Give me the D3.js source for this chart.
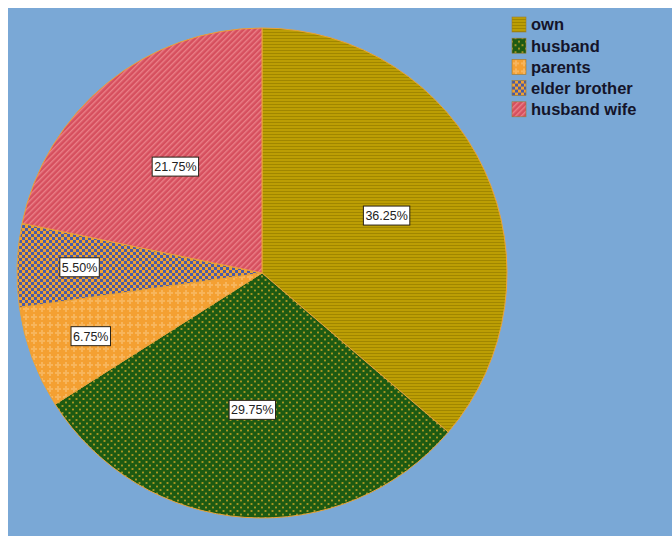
<!DOCTYPE html>
<html>
<head>
<meta charset="utf-8">
<script src="https://cdn.jsdelivr.net/npm/d3@7/dist/d3.min.js"></script>
<style>
  html, body { margin: 0; padding: 0; background: #ffffff; }
  svg { display: block; }
</style>
</head>
<body>
<script>
// Who the respondent lives with / depends on: share of answers in percent
const categories = ["own", "husband", "parents", "elder brother", "husband wife"];
const percents = [36.25, 29.75, 6.75, 5.50, 21.75];
const percentLabels = ["36.25%", "29.75%", "6.75%", "5.50%", "21.75%"];
const patternIds = ["pat-own", "pat-husband", "pat-parents", "pat-brother", "pat-hw"];

const W = 672, H = 536;
const svg = d3.select("body").append("svg").attr("width", W).attr("height", H);

// chart panel
svg.append("rect").attr("x", 8).attr("y", 8).attr("width", W - 8).attr("height", H - 8)
  .attr("fill", "#7aa8d6");

// ---- fill patterns ----
const defs = svg.append("defs");

// own: olive with fine horizontal lines
let p = defs.append("pattern").attr("id", "pat-own").attr("patternUnits", "userSpaceOnUse")
  .attr("width", 6).attr("height", 3);
p.append("rect").attr("width", 6).attr("height", 3).attr("fill", "#bc9e04");
p.append("rect").attr("y", 2).attr("width", 6).attr("height", 1).attr("fill", "#a08600");

// husband: dark green cells in a gold diagonal lattice
p = defs.append("pattern").attr("id", "pat-husband").attr("patternUnits", "userSpaceOnUse")
  .attr("width", 7).attr("height", 7);
p.append("rect").attr("width", 7).attr("height", 7).attr("fill", "#c9a526");
[[3.5, 3.5], [0, 0], [7, 0], [0, 7], [7, 7]].forEach(([x, y]) =>
  p.append("circle").attr("cx", x).attr("cy", y).attr("r", 2.7).attr("fill", "#1d5a12"));

// parents: orange with faint light crosses
p = defs.append("pattern").attr("id", "pat-parents").attr("patternUnits", "userSpaceOnUse")
  .attr("width", 8).attr("height", 8);
p.append("rect").attr("width", 8).attr("height", 8).attr("fill", "#f4a032");
p.append("rect").attr("x", 3).attr("y", 1).attr("width", 2).attr("height", 6).attr("fill", "#f7b55c");
p.append("rect").attr("x", 1).attr("y", 3).attr("width", 6).attr("height", 2).attr("fill", "#f7b55c");

// elder brother: orange / blue checkerboard
p = defs.append("pattern").attr("id", "pat-brother").attr("patternUnits", "userSpaceOnUse")
  .attr("width", 6).attr("height", 6);
p.append("rect").attr("width", 6).attr("height", 6).attr("fill", "#eea233");
p.append("rect").attr("width", 3).attr("height", 3).attr("fill", "#4a5aa6");
p.append("rect").attr("x", 3).attr("y", 3).attr("width", 3).attr("height", 3).attr("fill", "#4a5aa6");

// husband wife: red with light diagonal stripes
p = defs.append("pattern").attr("id", "pat-hw").attr("patternUnits", "userSpaceOnUse")
  .attr("width", 4).attr("height", 4).attr("patternTransform", "rotate(45)");
p.append("rect").attr("width", 4).attr("height", 4).attr("fill", "#d64f5e");
p.append("rect").attr("width", 1.4).attr("height", 4).attr("fill", "#eb8088");

// ---- pie ----
const cx = 262, cy = 273, R = 245;
const pie = d3.pie().sort(null).value(d => d)(percents);
const arc = d3.arc().innerRadius(0).outerRadius(R);

const g = svg.append("g").attr("transform", `translate(${cx},${cy})`);
g.selectAll("path.slice").data(pie).join("path")
  .attr("class", "slice")
  .attr("d", arc)
  .attr("fill", (d, i) => `url(#${patternIds[i]})`)
  .attr("stroke", "#e9a23a")
  .attr("stroke-width", 1);

// value labels: wide slices carry the label mid-way out, narrow slices further out
const labelArcWide = d3.arc().innerRadius(R * 0.56).outerRadius(R * 0.56);
const labelArcNarrow = d3.arc().innerRadius(R * 0.745).outerRadius(R * 0.745);
const labels = g.selectAll("g.lab").data(pie).join("g").attr("class", "lab")
  .attr("transform", d => {
    const narrow = (d.endAngle - d.startAngle) < 0.5;
    const [x, y] = (narrow ? labelArcNarrow : labelArcWide).centroid(d);
    return `translate(${x},${y})`;
  });
labels.append("rect").attr("class", "box");
labels.append("text")
  .attr("text-anchor", "middle")
  .attr("dy", "0.36em")
  .attr("font-family", "Liberation Sans, Arial, sans-serif")
  .attr("font-size", 12.5)
  .attr("fill", "#222")
  .text((d, i) => percentLabels[i]);
labels.each(function () {
  const t = d3.select(this).select("text").node();
  const w = t.getComputedTextLength() + 4;
  d3.select(this).select("rect.box")
    .attr("x", -w / 2).attr("y", -9.5).attr("width", w).attr("height", 19)
    .attr("fill", "#ffffff").attr("stroke", "#2a2218").attr("stroke-width", 1);
});

// ---- legend ----
const legend = svg.append("g").attr("transform", "translate(512,17)");
const items = legend.selectAll("g").data(categories).join("g")
  .attr("transform", (d, i) => `translate(0,${i * 21.2})`);
items.append("rect").attr("width", 14).attr("height", 15)
  .attr("fill", (d, i) => `url(#${patternIds[i]})`)
  .attr("stroke", "#9a7a30").attr("stroke-width", 0.6);
items.append("text")
  .attr("x", 19).attr("y", 7.5).attr("dy", "0.36em")
  .attr("font-family", "Liberation Sans, Arial, sans-serif")
  .attr("font-size", 16.5).attr("font-weight", "bold")
  .attr("fill", "#14142a")
  .text(d => d);
</script>
</body>
</html>
